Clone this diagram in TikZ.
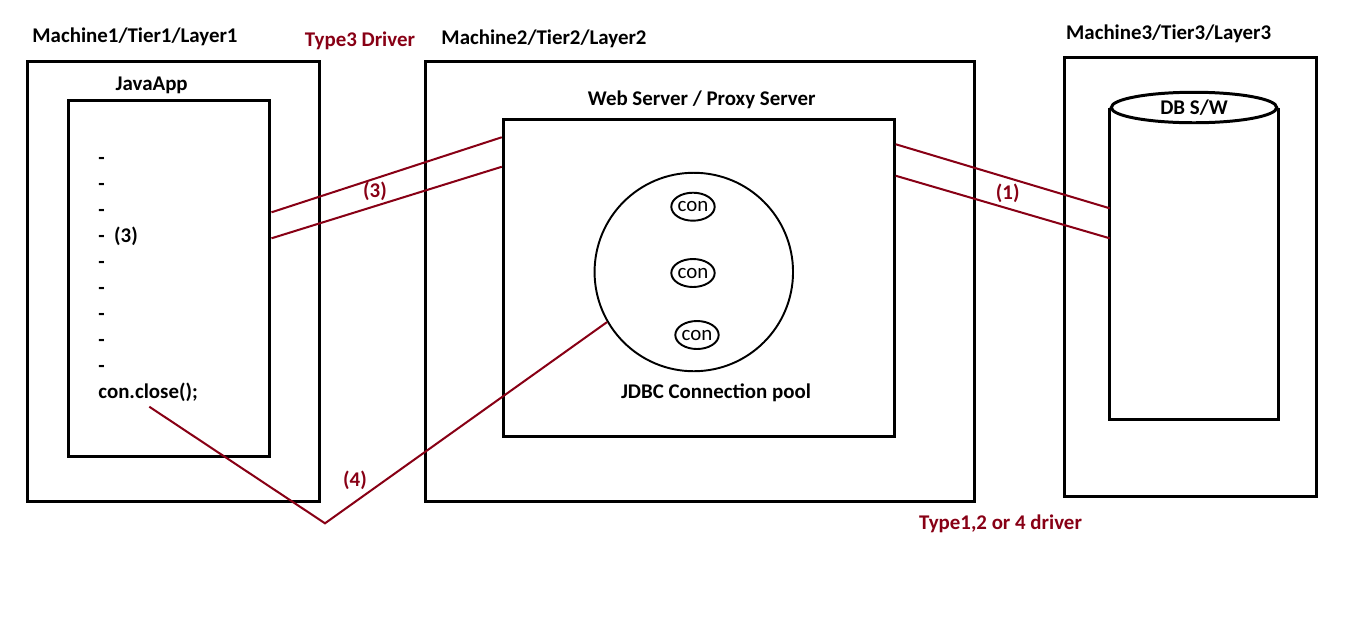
\documentclass[tikz,border=0pt]{standalone}
\usepackage{fontspec}
\setmainfont{Carlito}
\usetikzlibrary{shapes.geometric, positioning, calc}
\definecolor{linkred}{RGB}{136,0,21}
\tikzset{
  % Machine / tier boxes
  tierbox/.style={rectangle, draw=black, line width=1.7pt, inner sep=0pt},
  innerbox/.style={rectangle, draw=black, line width=1.7pt, inner sep=0pt},
  % Texts
  tiertitle/.style={font=\fontsize{11.9}{14.74}\selectfont\bfseries, inner sep=0pt},
  redlabel/.style={font=\fontsize{11.9}{14.74}\selectfont\bfseries, text=linkred, inner sep=0pt},
  % Pool and connections
  pool/.style={circle, draw=black, line width=1.1pt, inner sep=0pt},
  conn/.style={ellipse, draw=black, line width=1.1pt, minimum width=0.76cm,
    minimum height=0.56cm, inner sep=0pt, font=\fontsize{11.9}{14.74}\selectfont},
  dbhead/.style={ellipse, draw=black, line width=1.7pt, inner sep=0pt,
    minimum width=3.31cm, minimum height=0.61cm, font=\fontsize{11.9}{14.74}\selectfont\bfseries},
  link/.style={draw=linkred, line width=1.15pt}
}
\begin{document}
\begin{tikzpicture}[x=0.02cm, y=-0.02cm]
  \useasboundingbox (0,0) rectangle (1360,623);

  % Boxes
  \node[tierbox, minimum width=5.85cm, minimum height=8.80cm] (m1) at (173.75,281.6) {};
  \node[innerbox, minimum width=4.04cm, minimum height=7.12cm] (app) at (169,278.6) {};
  \node[tierbox, minimum width=10.99cm, minimum height=8.81cm] (m2) at (700.2,281.25) {};
  \node[innerbox, minimum width=7.82cm, minimum height=6.34cm] (proxy) at (698.75,277.75) {};
  \node[tierbox, minimum width=5.03cm, minimum height=8.78cm] (m3) at (1190.5,276.7) {};

  % Titles
  \node[tiertitle] (t1) at (135,37) {Machine1/Tier1/Layer1};
  \node[tiertitle] (t2) at (544,39) {Machine2/Tier2/Layer2};
  \node[tiertitle] (t3) at (1168.7,34) {Machine3/Tier3/Layer3};
  \node[tiertitle] (tapp) at (151.7,85) {JavaApp};
  \node[tiertitle] (tweb) at (701.7,100) {Web Server / Proxy Server};
  \node[redlabel] (type3) at (360,41) {Type3 Driver};
  \node[redlabel] (type124) at (1000.5,523.3) {Type1,2 or 4 driver};

  % Java code
  \node[tiertitle, align=left, anchor=base west] (code) at (98,398)
    {-\\-\\-\\-\ \ (3)\\-\\-\\-\\-\\-\\con.close();};

  % Connection pool
  \node[pool, minimum size=3.97cm] (pool) at (693.8,272) {};
  \node[conn] (con1) at (693,206.7) {con};
  \node[conn] (con2) at (693,273) {con};
  \node[conn] (con3) at (697,335) {con};
  \node[tiertitle] (tpool) at (716,393) {JDBC Connection pool};

  % Database
  \node[dbhead] (dbtop) at (1194,107.5) {DB S/W};
  \coordinate (dbbase) at (1194,419);
  \draw[line width=1.7pt] (dbtop.west) |- (dbbase) -| (dbtop.east);

  % Links
  \draw[link] ($(app.east)+(0,-66.3)$) -- ($(proxy.west)+(0,-140.5)$);
  \draw[link] ($(app.east)+(0,-40.3)$) -- ($(proxy.west)+(0,-111)$);
  \node[redlabel] (l3) at (375,191.7) {(3)};
  \draw[link] ($(proxy.east)+(0,-133.5)$) -- ($(dbtop.west)+(0,100.8)$);
  \draw[link] ($(proxy.east)+(0,-102)$) -- ($(dbtop.west)+(0,130.8)$);
  \node[redlabel] (l1) at (1007.7,193.3) {(1)};
  \coordinate (closept) at (149.3,406.7);
  \coordinate (bend) at (325,523.3);
  \draw[link] (closept) -- (bend) -- (pool.210);
  \node[redlabel] (l4) at (355,480) {(4)};
\end{tikzpicture}
\end{document}
